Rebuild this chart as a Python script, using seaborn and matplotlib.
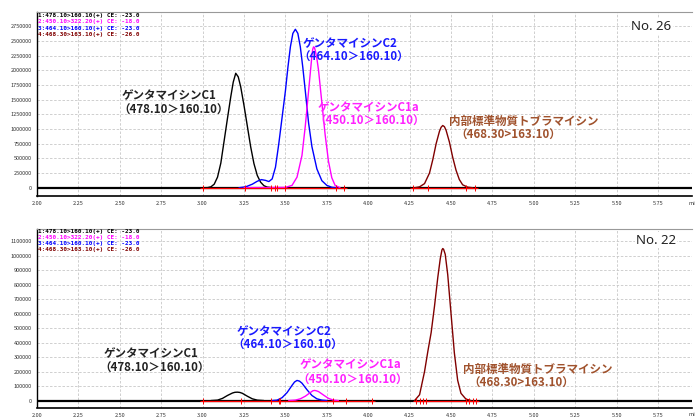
import numpy as np
import pandas as pd
import matplotlib
matplotlib.use("Agg")
import matplotlib.pyplot as plt
from matplotlib.ticker import MultipleLocator, FuncFormatter
import seaborn as sns

# ------------------------------------------------------------------ data
x_min, x_max = 2.0, 5.955
baseline_t = [2.00, 5.96]
baseline_y = [0, 0]

# ---- sample No. 26 (upper panel)
n26_c1_t = [3.00, 3.03, 3.05, 3.07, 3.09, 3.11, 3.13, 3.15, 3.17, 3.185, 3.20, 3.215, 3.23, 3.25, 3.27, 3.29, 3.31, 3.33, 3.35, 3.37, 3.39, 3.42]
n26_c1_y = [0, 2000, 15000, 60000, 180000, 420000, 800000, 1180000, 1550000, 1800000, 1950000, 1890000, 1720000, 1400000, 1050000, 700000, 410000, 210000, 95000, 35000, 10000, 0]

n26_c1a_t = [3.25, 3.50, 3.54, 3.57, 3.60, 3.62, 3.64, 3.66, 3.665, 3.67, 3.675, 3.68, 3.69, 3.70, 3.72, 3.74, 3.76, 3.78, 3.80, 3.83]
n26_c1a_y = [0, 5000, 40000, 180000, 550000, 1050000, 1650000, 2250000, 2360000, 2400000, 2390000, 2340000, 2200000, 2000000, 1450000, 900000, 450000, 170000, 40000, 0]

n26_c2_t = [3.22, 3.26, 3.30, 3.33, 3.355, 3.38, 3.40, 3.42, 3.44, 3.46, 3.48, 3.50, 3.515, 3.53, 3.545, 3.56, 3.575, 3.59, 3.605, 3.62, 3.64, 3.66, 3.69, 3.72, 3.75, 3.78, 3.81]
n26_c2_y = [0, 15000, 60000, 110000, 138000, 125000, 105000, 150000, 350000, 750000, 1200000, 1650000, 2050000, 2400000, 2630000, 2700000, 2630000, 2400000, 2050000, 1650000, 1100000, 700000, 320000, 120000, 40000, 8000, 0]

n26_is_t = [4.28, 4.31, 4.34, 4.37, 4.39, 4.41, 4.43, 4.44, 4.45, 4.46, 4.47, 4.49, 4.51, 4.53, 4.55, 4.57, 4.60, 4.63]
n26_is_y = [0, 15000, 70000, 250000, 480000, 750000, 960000, 1030000, 1060000, 1040000, 980000, 780000, 520000, 300000, 140000, 50000, 10000, 0]

n26_marks = [3.00, 3.253, 3.41, 3.44, 3.45, 3.50, 3.805, 3.855, 4.27, 4.36, 4.59, 4.645]
n26_base_start = [3.00, 4.27]
n26_base_end = [3.86, 4.65]

# ---- sample No. 22 (lower panel)
n22_c1_t = [3.05, 3.09, 3.12, 3.15, 3.18, 3.195, 3.21, 3.225, 3.24, 3.27, 3.30, 3.33, 3.37]
n22_c1_y = [0, 3000, 15000, 35000, 52000, 57000, 58000, 56000, 50000, 30000, 12000, 3000, 0]

n22_c1a_t = [3.52, 3.56, 3.59, 3.62, 3.65, 3.665, 3.675, 3.685, 3.70, 3.73, 3.76, 3.79, 3.82]
n22_c1a_y = [0, 3000, 12000, 30000, 55000, 67000, 70000, 68000, 62000, 38000, 15000, 3000, 0]

n22_c2_t = [3.42, 3.45, 3.48, 3.51, 3.54, 3.555, 3.57, 3.585, 3.60, 3.63, 3.66, 3.69, 3.72, 3.75]
n22_c2_y = [0, 3000, 20000, 55000, 105000, 128000, 139000, 134000, 120000, 75000, 35000, 12000, 3000, 0]

n22_is_t = [4.28, 4.31, 4.34, 4.36, 4.38, 4.40, 4.42, 4.435, 4.445, 4.45, 4.455, 4.465, 4.48, 4.50, 4.52, 4.54, 4.56, 4.59, 4.62]
n22_is_y = [0, 40000, 200000, 340000, 470000, 650000, 850000, 980000, 1040000, 1050000, 1045000, 1010000, 870000, 600000, 330000, 140000, 50000, 10000, 0]

n22_marks = [3.00, 3.23, 3.41, 3.46, 3.47, 3.79, 3.865, 4.02, 4.29, 4.31, 4.33, 4.35, 4.59, 4.61, 4.63, 4.65]
n22_base_start = [3.00, 4.28]
n22_base_end = [4.03, 4.66]

# ---- texts
header_lines = ["1:478.10>160.10(+) CE: -23.0",
                "2:450.10>322.20(+) CE: -18.0",
                "3:464.10>160.10(+) CE: -23.0",
                "4:468.30>163.10(+) CE: -26.0"]
header_colors = ["#000000", "#ff00ff", "#0000ff", "#800000"]

name_c1 = "ゲンタマイシンC1"
name_c2 = "ゲンタマイシンC2"
name_c1a = "ゲンタマイシンC1a"
name_is = "内部標準物質トブラマイシン"
mrm_c1 = "（478.10＞160.10）"
mrm_c2 = "（464.10＞160.10）"
mrm_c1a = "（450.10＞160.10）"
mrm_is = "（468.30>163.10）"

x_tick_labels = ["2.00", "2.25", "2.50", "2.75", "3.00", "3.25", "3.50", "3.75",
                 "4.00", "4.25", "4.50", "4.75", "5.00", "5.25", "5.50", "5.75"]

# ------------------------------------------------------------------ style
sns.set_style("white")
plt.rcParams['font.family'] = ['Noto Sans CJK JP', 'DejaVu Sans']

W, H = 696, 418
fig = plt.figure(figsize=(W / 100, H / 100), dpi=100)

def fig_box(left, top, right, bottom):
    return [left / W, 1 - bottom / H, (right - left) / W, (bottom - top) / H]

ax1 = fig.add_axes(fig_box(37, 12.3, 692, 195.7))
ax2 = fig.add_axes(fig_box(37, 229, 692, 407.5))

C_BLACK, C_MAG, C_BLUE, C_BROWN = "#000000", "#ff00ff", "#0000ff", "#800000"


def draw_panel(ax, traces, marks, bstart, bend, ylim, ystep, ymax_tick):
    dfz = pd.DataFrame({"t": baseline_t, "y": baseline_y})
    sns.lineplot(data=dfz, x="t", y="y", ax=ax, color=C_BLACK, linewidth=1.6,
                 sort=False, estimator=None, legend=False)
    for (t, y, c, lw) in traces:
        df = pd.DataFrame({"t": t, "y": y})
        sns.lineplot(data=df, x="t", y="y", ax=ax, color=c, linewidth=lw,
                     sort=False, estimator=None, legend=False)
    for s, e in zip(bstart, bend):
        dfb = pd.DataFrame({"t": [s, e], "y": [0, 0]})
        sns.lineplot(data=dfb, x="t", y="y", ax=ax, color="#ff0000",
                     linewidth=0.9, sort=False, estimator=None, legend=False)
    dfm = pd.DataFrame({"t": marks, "y": [0] * len(marks)})
    sns.scatterplot(data=dfm, x="t", y="y", ax=ax, marker="+", color="#ff0000",
                    s=18, linewidth=0.7, legend=False, zorder=5)

    ax.set_xlim(x_min, x_max)
    ax.set_ylim(*ylim)
    ax.set_xlabel("")
    ax.set_ylabel("")
    xt = [float(v) for v in x_tick_labels]
    ax.set_xticks(xt)
    ax.set_xticklabels(x_tick_labels)
    ax.xaxis.set_minor_locator(MultipleLocator(0.05))
    ax.set_yticks(np.arange(0, ymax_tick + 1, ystep))
    ax.yaxis.set_major_formatter(FuncFormatter(lambda v, _: f"{int(round(v))}"))
    ax.tick_params(axis="both", which="major", direction="out", length=2.5,
                   width=0.6, labelsize=4, pad=1.2, colors="#000000",
                   labelcolor="#333333")
    ax.tick_params(axis="x", which="minor", direction="out", length=1.5, width=0.6)
    ax.grid(True, which="major", color="#c8c8c8", linestyle=(0, (3, 2)), linewidth=0.6)
    ax.set_axisbelow(True)
    ax.spines["right"].set_visible(False)
    ax.spines["top"].set_color("#999999")
    ax.spines["top"].set_linewidth(0.8)
    ax.spines["left"].set_color("#000000")
    ax.spines["left"].set_linewidth(1.0)
    ax.spines["bottom"].set_color("#000000")
    ax.spines["bottom"].set_linewidth(1.2)


draw_panel(ax1,
           [(n26_c1_t, n26_c1_y, C_BLACK, 1.0),
            (n26_c2_t, n26_c2_y, C_BLUE, 1.0),
            (n26_c1a_t, n26_c1a_y, C_MAG, 1.0),
            (n26_is_t, n26_is_y, C_BROWN, 1.0)],
           n26_marks, n26_base_start, n26_base_end,
           (-136000, 2989000), 250000, 2750000)

draw_panel(ax2,
           [(n22_c1_t, n22_c1_y, C_BLACK, 1.0),
            (n22_c2_t, n22_c2_y, C_BLUE, 1.0),
            (n22_c1a_t, n22_c1a_y, C_MAG, 1.0),
            (n22_is_t, n22_is_y, C_BROWN, 1.0)],
           n22_marks, n22_base_start, n22_base_end,
           (-48000, 1185000), 100000, 1100000)

# header lines in each panel
def headers(top_px):
    for i, (txt, col) in enumerate(zip(header_lines, header_colors)):
        fig.text(37.5 / W, 1 - (top_px + i * 6.3) / H, txt, color=col,
                 fontsize=4.3, fontweight="bold", family=["DejaVu Sans Mono"],
                 ha="left", va="center")

headers(15.7)
headers(231.0)

# min label cut at the right edge
fig.text(691.5 / W, 1 - 203.5 / H, "mi", fontsize=4, color="#333333", ha="center", va="center")
fig.text(691.5 / W, 1 - 414.5 / H, "mi", fontsize=4, color="#333333", ha="center", va="center")


def label(x, y, txt, col, size=8.3, ha="center"):
    fig.text(x / W, 1 - y / H, txt, color=col, fontsize=size, fontweight="bold",
             ha=ha, va="center")

TXT_BLACK, TXT_BLUE, TXT_MAG, TXT_BROWN = "#222222", "#1a1aff", "#ff22ff", "#a0522d"

# upper panel labels
label(169.5, 96, name_c1, TXT_BLACK)
label(174, 110.5, mrm_c1, TXT_BLACK)
label(350, 43.5, name_c2, TXT_BLUE)
label(354, 57, mrm_c2, TXT_BLUE)
label(369, 107.5, name_c1a, TXT_MAG)
label(370, 121, mrm_c1a, TXT_MAG)
label(449, 121, name_is, TXT_BROWN, ha="left")
label(455, 135, mrm_is, TXT_BROWN, ha="left")
fig.text(651.5 / W, 1 - 27 / H, "No. 26", fontsize=9.5, color="#222222",
         family=["Noto Sans", "DejaVu Sans"], ha="center", va="center",
         bbox=dict(facecolor="white", edgecolor="none", pad=1))

# lower panel labels
label(151, 354, name_c1, TXT_BLACK)
label(155, 368, mrm_c1, TXT_BLACK)
label(284, 332, name_c2, TXT_BLUE)
label(288, 345, mrm_c2, TXT_BLUE)
label(350, 365, name_c1a, TXT_MAG)
label(353, 380, mrm_c1a, TXT_MAG)
label(463, 369, name_is, TXT_BROWN, ha="left")
label(468, 383, mrm_is, TXT_BROWN, ha="left")
fig.text(656 / W, 1 - 240 / H, "No. 22", fontsize=9.5, color="#222222",
         family=["Noto Sans", "DejaVu Sans"], ha="center", va="center",
         bbox=dict(facecolor="white", edgecolor="none", pad=1))

fig.savefig("out.png", dpi=100, facecolor="white")
